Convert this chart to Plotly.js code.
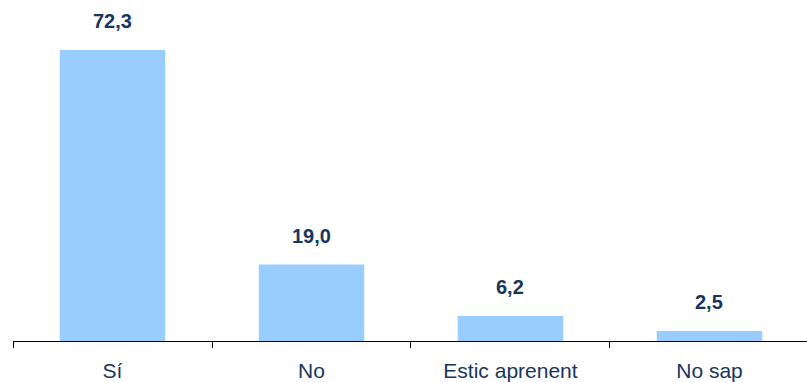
<!DOCTYPE html>
<html>
<head>
<meta charset="utf-8">
<script src="https://cdn.plot.ly/plotly-3.0.1.min.js"></script>
<style>html,body{margin:0;padding:0;background:#fff;}#chart{width:807px;height:382px;}</style>
</head>
<body>
<div id="chart"></div>
<script>
const categories = ["Sí", "No", "Estic aprenent", "No sap"];
const values = [72.3, 19.0, 6.2, 2.5];
const valueLabels = values.map(v => v.toFixed(1).replace(".", ","));

const trace = {
  type: "bar",
  x: categories,
  y: values,
  width: 0.53,
  marker: {color: "#99CCFF", line: {width: 0}},
  hoverinfo: "none"
};

const annotations = categories.map((c, i) => ({
  x: c, y: values[i], xref: "x", yref: "y",
  text: "<b>" + valueLabels[i] + "</b>",
  showarrow: false, yanchor: "middle", yshift: 29,
  font: {family: "Liberation Sans, Arial, sans-serif", size: 20, color: "#17365D"}
}));

const layout = {
  width: 807, height: 382,
  margin: {l: 13, r: 0, t: 0, b: 41},
  paper_bgcolor: "#fff", plot_bgcolor: "#fff",
  showlegend: false,
  xaxis: {
    type: "category",
    range: [-0.5, 3.49],
    showline: true, linecolor: "#000", linewidth: 1,
    ticks: "outside", tickson: "boundaries", ticklen: 6, tickcolor: "#000", tickwidth: 1,
    ticklabelstandoff: 11,
    showgrid: false, zeroline: false,
    tickfont: {family: "Liberation Sans, Arial, sans-serif", size: 21, color: "#17365D"}
  },
  yaxis: {
    range: [0, 84.7], visible: false, showgrid: false, zeroline: false
  },
  annotations: annotations
};

Plotly.newPlot("chart", [trace], layout, {staticPlot: true, displayModeBar: false});
</script>
</body>
</html>
